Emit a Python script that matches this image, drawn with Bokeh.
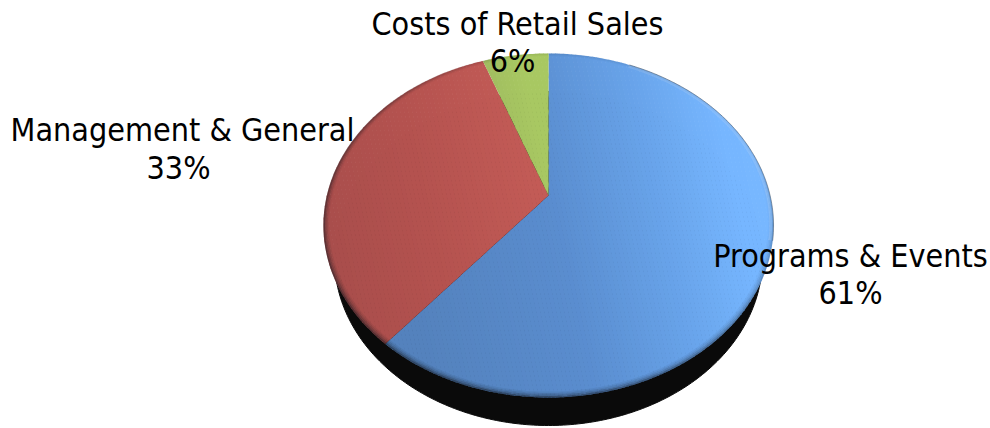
import numpy as np
from bokeh.plotting import figure
from bokeh.models import Range1d
from bokeh.core.properties import value
from bokeh.embed import file_html
from bokeh.resources import INLINE

categories = ["Programs & Events", "Management & General", "Costs of Retail Sales"]
shares = [61.0, 33.4, 5.6]
label_x = [850, 182, 517]
label_y = [255, 129, 23]
pct_x = [850, 178, 512]
pct_y = [292, 167, 60]

ramps = [
    [(390, "#5482BD"), (550, "#5A8DCF"), (650, "#67A2E8"), (735, "#76B6FF"), (790, "#78B8FF")],
    [(320, "#A94E4C"), (420, "#B4524F"), (550, "#C45C57")],
    [(480, "#9BB45E"), (550, "#A8C862")],
]

CX, CY = 548, 195
K = 0.1744
SY, SX = 166.8, 221.6
FONT = value("DejaVu Sans Condensed")
FONT_PX = "32px"


def project(r, ang):
    """ang: radians clockwise from 12 o'clock on the tilted disc."""
    u, v = r * np.sin(ang), -r * np.cos(ang)
    w = 1 - K * v
    return CX + SX * u / w, CY + SY * v / w


def clip(poly, lo, hi):
    def side(pts, f):
        out = []
        for i in range(len(pts)):
            a, b = pts[i], pts[(i + 1) % len(pts)]
            fa, fb = f(a), f(b)
            if fa >= 0:
                out.append(a)
            if (fa >= 0) != (fb >= 0):
                s = fa / (fa - fb)
                out.append((a[0] + s * (b[0] - a[0]), a[1] + s * (b[1] - a[1])))
        return out
    t = lambda q: q[0] - 0.22 * (q[1] - 195)
    pts = side(poly, lambda q: t(q) - lo)
    return side(pts, lambda q: hi - t(q)) if pts else pts


def ramp_color(stops, x):
    xs = [s[0] for s in stops]
    rgb = [[int(s[1][i:i + 2], 16) for s in stops] for i in (1, 3, 5)]
    return "#%02x%02x%02x" % tuple(int(round(np.interp(x, xs, c))) for c in rgb)


p = figure(width=990, height=428, output_backend="svg", toolbar_location=None,
           x_range=Range1d(0, 990), y_range=Range1d(428, 0), min_border=0)
p.axis.visible = False
p.grid.visible = False
p.outline_line_color = None

# extrusion under the disc
th = np.linspace(0, 2 * np.pi, 361)
p.patch(CX + 214 * np.cos(th), 258 + 167 * np.sin(th), fill_color="#0a0a0a", line_color="#0a0a0a")

# wedges, drawn as thin gradient strips
start = 0.0
for share, stops in zip(shares, ramps):
    a0 = start / 100 * 2 * np.pi
    a1 = (start + share) / 100 * 2 * np.pi
    start += share
    ang = np.linspace(a0, a1, max(int(share * 4), 16))
    ex, ey = project(1.0, ang)
    poly = [(CX, CY)] + list(zip(ex, ey))
    xs, ys, cs = [], [], []
    for lo in np.arange(250, 900, 4.0):
        piece = clip(poly, lo, lo + 4.6)
        if len(piece) >= 3:
            xs.append([q[0] for q in piece])
            ys.append([q[1] for q in piece])
            cs.append(ramp_color(stops, lo + 2))
    p.patches(xs, ys, fill_color=cs, line_color=None)

# soft bevel on the rim: stronger towards the bottom and left, almost none at the top right
seg = np.linspace(0, 2 * np.pi, 121)
mid = (seg[:-1] + seg[1:]) / 2
weight = np.clip(0.5 - 0.5 * np.cos(mid) - 0.3 * np.sin(mid), 0.08, 1.0)
for r, al in [(0.997, 0.55), (0.991, 0.32), (0.985, 0.17), (0.979, 0.07)]:
    xs, ys = [], []
    for a0, a1 in zip(seg[:-1], seg[1:]):
        ex, ey = project(r, np.linspace(a0, a1, 4))
        xs.append(list(ex))
        ys.append(list(ey))
    p.multi_line(xs, ys, line_color="#14181f", line_alpha=list(al * weight), line_width=1.6)
# pale highlight just inside the upper right rim
hl = np.radians(np.linspace(25, 105, 60))
ex, ey = project(0.988, hl)
p.line(ex, ey, line_color="#ffffff", line_alpha=0.13, line_width=3)
# hairline on the upper right edge
ex, ey = project(1.0, hl)
p.line(ex, ey, line_color="#4a5a6a", line_alpha=0.55, line_width=1)

# labels
total = sum(shares)
p.text(label_x, label_y, text=categories, text_align="center",
       text_baseline="middle", text_font=FONT, text_font_size=FONT_PX, text_color="#000000")
p.text(pct_x, pct_y, text=[f"{round(s / total * 100)}%" for s in shares],
       text_align="center", text_baseline="middle", text_font=FONT, text_font_size=FONT_PX,
       text_color="#000000")

open("out.html", "w").write(file_html(p, INLINE))
